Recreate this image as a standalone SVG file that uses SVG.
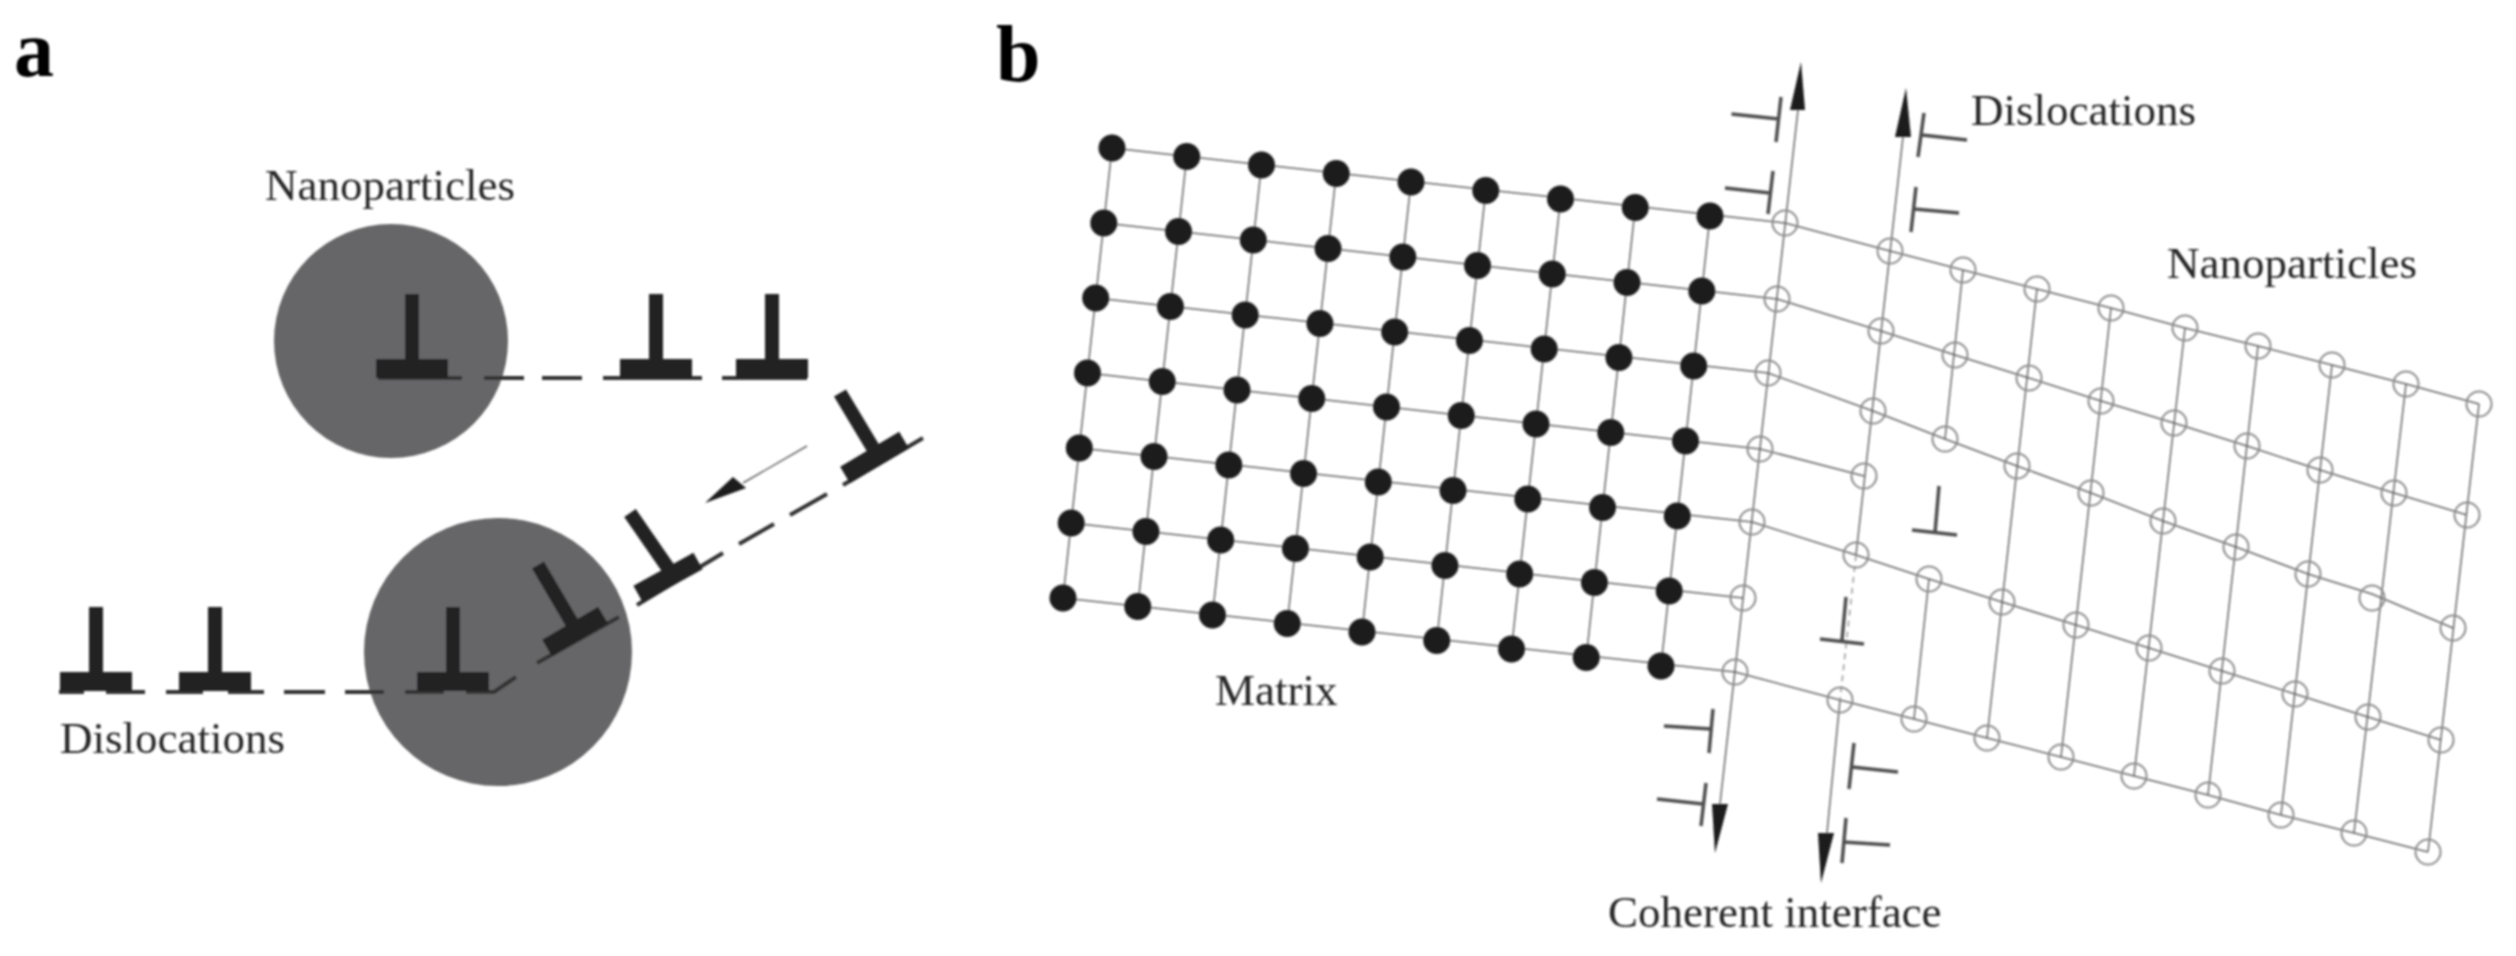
<svg xmlns="http://www.w3.org/2000/svg" width="2516" height="956" viewBox="0 0 2516 956">
<style>
text{font-family:"Liberation Serif","Times New Roman",serif;fill:#262626}
.lbl{font-size:45px}
.pan{font-size:80px;font-weight:bold;fill:#000}
.np{fill:#666668}
.stem{stroke:#222;stroke-width:14;fill:none}
.bar{stroke:#222;stroke-width:19;fill:none}
.slip{stroke:#333;stroke-width:4;fill:none}
.sym{stroke:#4d4d4d;stroke-width:3.5;fill:none}
.grid{stroke:#666;stroke-width:1.5;fill:none}
.faint{stroke:#999;stroke-width:1.5;fill:none;stroke-dasharray:6 5}
.dot{fill:#1c1c1c}
.open{fill:none;stroke:#8c8c8c;stroke-width:2}
.head{fill:#1a1a1a}
</style>
<defs>
<filter id="soft" filterUnits="userSpaceOnUse" x="0" y="0" width="2516" height="956"><feGaussianBlur stdDeviation="0.8"/></filter>
<g id="row">
<circle class="dot" cx="0" cy="0" r="13.500"/><circle class="dot" cx="74.75" cy="8.5" r="13.500"/><circle class="dot" cx="149.5" cy="17" r="13.500"/><circle class="dot" cx="224.25" cy="25.5" r="13.500"/><circle class="dot" cx="299" cy="34" r="13.500"/><circle class="dot" cx="373.75" cy="42.5" r="13.500"/><circle class="dot" cx="448.5" cy="51" r="13.500"/><circle class="dot" cx="523.25" cy="59.5" r="13.500"/><circle class="dot" cx="598" cy="68" r="13.500"/>
</g>
<g id="upT"><path class="stem" d="M0 -83V-8"/><path class="bar" d="M-36 -8.500H36"/></g>
</defs>
<rect width="2516" height="956" fill="#fff"/>
<g filter="url(#soft)">
<g id="panel-a">
<circle id="np-a1" class="np" cx="391" cy="341" r="117"/>
<circle id="np-a2" class="np" cx="498" cy="652" r="134"/>
<g id="connectors-a">
<path class="slip" d="M378 378H462M484 378H524M542 378H582M603 378H702M722 378H807"/>
<path class="slip" d="M59 692H84M106 692H145M166 692H203M228 692H264M284 692H325M345 692H384M405 692H444M466 692H494L516 677M537 663L619 617M637 605L723 553M739 544L774 524M790 515L827 494M843 485L923 438"/>
<path class="grid" d="M807 446L743 483"/>
<polygon class="head" points="733,477 746,488 705,503"/>
</g>
<use id="dis-a1" href="#upT" x="412" y="377"/>
<use id="dis-a2" href="#upT" x="656" y="377"/>
<use id="dis-a3" href="#upT" x="772" y="377"/>
<use id="dis-a4" href="#upT" x="96" y="690"/>
<use id="dis-a5" href="#upT" x="215" y="690"/>
<use id="dis-a6" href="#upT" x="453" y="690"/>
<g id="dis-a7"><path class="stem" d="M538 565L572 623"/><path class="bar" d="M547 648L603 615"/></g>
<g id="dis-a8"><path class="stem" d="M630 513L668 568"/><path class="bar" d="M638 594L698 561"/></g>
<g id="dis-a9"><path class="stem" d="M840 393L873 448"/><path class="bar" d="M845 475L904 440"/></g>
</g>
<g id="panel-b">
<g id="connectors-b">
<path class="grid" d="M1112 148L1785 223M1103.800 223L1777 299M1095.700 298L1768 373M1087.500 373L1760 449M1079.300 448L1752 522M1071.200 523L1743 598M1063 598L1735 672"/>
<path class="grid" d="M1112 148L1063 598M1186.750 156.500L1137.750 606.500M1261.500 165L1212.500 615M1336.250 173.500L1287.250 623.500M1411 182L1362 632M1485.750 190.500L1436.750 640.500M1560.500 199L1511.500 649M1635.250 207.500L1586.250 657.500M1710 216L1661 666"/>
<path class="grid" d="M1785 223L1890 251L1963 270L2037 289L2111 308L2185 328L2258 346L2332 365L2406 384L2479 404"/>
<path class="grid" d="M1777 299L1881 331L1955 355L2029 378L2101 401L2174 423L2247 446L2320 470L2394 493L2467 515"/>
<path class="grid" d="M1768 373L1873 411L1945 439L2017 466L2091 493L2163 521L2236 547L2308 574L2372 594L2453 628"/>
<path class="grid" d="M1760 449L1864 476"/>
<path class="grid" d="M1752 522L1856 555L1929 579L2002 602L2076 625L2149 648L2222 671L2295 694L2368 717L2441 740"/>
<path class="grid" d="M1735 672L1840 700L1914 719L1987 738L2061 757L2134 776L2208 795L2281 815L2354 833L2428 852"/>
<path class="grid" d="M1798 110L1720 804"/>
<path class="grid" d="M1903 137L1856 555"/>
<path class="faint" d="M1856 555L1840 700"/>
<path class="grid" d="M1840 700L1827 833"/>
<path class="grid" d="M1963 270L1945 439M1929 579L1914 719M2037 289L1987 738M2111 308L2061 757M2185 328L2134 776M2258 346L2208 795M2332 365L2281 815M2406 384L2354 833M2479 404L2428 852"/>
<polygon class="head" points="1801,62 1790,110 1805,110"/>
<polygon class="head" points="1906,88 1895,137 1911,137"/>
<polygon class="head" points="1712,804 1728,804 1715,853"/>
<polygon class="head" points="1818,833 1834,833 1821,883"/>
</g>
<g id="matrix-atoms">
<use href="#row" x="1112" y="148"/><use href="#row" x="1103.800" y="223"/><use href="#row" x="1095.700" y="298"/><use href="#row" x="1087.500" y="373"/><use href="#row" x="1079.300" y="448"/><use href="#row" x="1071.200" y="523"/><use href="#row" x="1063" y="598"/>
</g>
<g id="particle-atoms" class="open">
<circle cx="1785" cy="223" r="12.500"/><circle cx="1890" cy="251" r="12.500"/><circle cx="1963" cy="270" r="12.500"/><circle cx="2037" cy="289" r="12.500"/><circle cx="2111" cy="308" r="12.500"/><circle cx="2185" cy="328" r="12.500"/><circle cx="2258" cy="346" r="12.500"/><circle cx="2332" cy="365" r="12.500"/><circle cx="2406" cy="384" r="12.500"/><circle cx="2479" cy="404" r="12.500"/>
<circle cx="1777" cy="299" r="12.500"/><circle cx="1881" cy="331" r="12.500"/><circle cx="1955" cy="355" r="12.500"/><circle cx="2029" cy="378" r="12.500"/><circle cx="2101" cy="401" r="12.500"/><circle cx="2174" cy="423" r="12.500"/><circle cx="2247" cy="446" r="12.500"/><circle cx="2320" cy="470" r="12.500"/><circle cx="2394" cy="493" r="12.500"/><circle cx="2467" cy="515" r="12.500"/>
<circle cx="1768" cy="373" r="12.500"/><circle cx="1873" cy="411" r="12.500"/><circle cx="1945" cy="439" r="12.500"/><circle cx="2017" cy="466" r="12.500"/><circle cx="2091" cy="493" r="12.500"/><circle cx="2163" cy="521" r="12.500"/><circle cx="2236" cy="547" r="12.500"/><circle cx="2308" cy="574" r="12.500"/><circle cx="2372" cy="598" r="12.500"/><circle cx="2453" cy="628" r="12.500"/>
<circle cx="1760" cy="449" r="12.500"/><circle cx="1864" cy="476" r="12.500"/>
<circle cx="1752" cy="522" r="12.500"/><circle cx="1856" cy="555" r="12.500"/><circle cx="1929" cy="579" r="12.500"/><circle cx="2002" cy="602" r="12.500"/><circle cx="2076" cy="625" r="12.500"/><circle cx="2149" cy="648" r="12.500"/><circle cx="2222" cy="671" r="12.500"/><circle cx="2295" cy="694" r="12.500"/><circle cx="2368" cy="717" r="12.500"/><circle cx="2441" cy="740" r="12.500"/>
<circle cx="1743" cy="598" r="12.500"/>
<circle cx="1735" cy="672" r="12.500"/><circle cx="1840" cy="700" r="12.500"/><circle cx="1914" cy="719" r="12.500"/><circle cx="1987" cy="738" r="12.500"/><circle cx="2061" cy="757" r="12.500"/><circle cx="2134" cy="776" r="12.500"/><circle cx="2208" cy="795" r="12.500"/><circle cx="2281" cy="815" r="12.500"/><circle cx="2354" cy="833" r="12.500"/><circle cx="2428" cy="852" r="12.500"/>
</g>
<g id="dislocation-symbols" class="sym">
<path d="M1781 97L1776 142M1731.500 114L1779 119"/>
<path d="M1773 171L1768 214M1725 188L1770 193"/>
<path d="M1924 113L1918 157M1922 135L1967 140"/>
<path d="M1916 187L1911 232M1914 209L1959 213"/>
<path d="M1713 709L1709 753M1664 726L1711 729"/>
<path d="M1706 783L1701 826M1657 799L1703 804"/>
<path d="M1854 743L1849 789M1852 767L1898 772"/>
<path d="M1846 818L1842 863M1843 842L1890 845"/>
<path d="M1939 486L1935 533M1912 530L1957 535"/>
<path d="M1846 597L1842 640M1820 639L1864 644"/>
</g>
</g>
<g id="labels">
<text class="pan" x="14" y="76">a</text>
<text class="pan" x="996" y="81">b</text>
<text class="lbl" x="265" y="200">Nanoparticles</text>
<text class="lbl" x="60" y="753">Dislocations</text>
<text class="lbl" x="1215" y="705">Matrix</text>
<text class="lbl" x="1971" y="125">Dislocations</text>
<text class="lbl" x="2167" y="278">Nanoparticles</text>
<text class="lbl" x="1608" y="927">Coherent interface</text>
</g>
</g>
</svg>
